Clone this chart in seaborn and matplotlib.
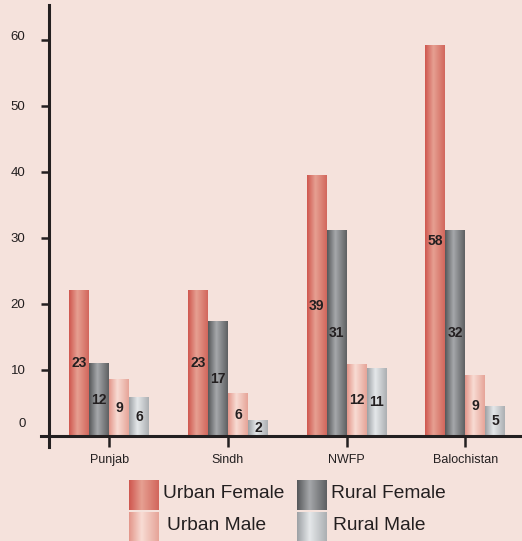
import numpy as np
import pandas as pd
import matplotlib
matplotlib.use("Agg")
import matplotlib.pyplot as plt
import seaborn as sns
from matplotlib.colors import LinearSegmentedColormap
from matplotlib.transforms import ScaledTranslation

# ---- data ----
provinces = ["Punjab", "Sindh", "NWFP", "Balochistan"]
groups = ["Urban Female", "Rural Female", "Urban Male", "Rural Male"]
urban_female = [22.0, 22.1, 39.4, 59.2]
rural_female = [11.0, 17.4, 31.2, 31.1]
urban_male = [8.5, 6.4, 10.8, 9.1]
rural_male = [5.9, 2.4, 10.3, 4.5]
labels_urban_female = ["23", "23", "39", "58"]
labels_rural_female = ["12", "17", "31", "32"]
labels_urban_male = ["9", "6", "12", "9"]
labels_rural_male = ["6", "2", "11", "5"]
yticks = [0, 10, 20, 30, 40, 50, 60]

values = [urban_female, rural_female, urban_male, rural_male]
bar_labels = [labels_urban_female, labels_rural_female, labels_urban_male, labels_rural_male]

# ---- styles ----
BG = "#f5e2dc"
INK = "#231f20"
gradients = {
    "Urban Female": ["#cf564e", "#e6a092", "#d2665c"],
    "Rural Female": ["#555759", "#a6a8ab", "#5e6062"],
    "Urban Male": ["#e3968a", "#f8dcd4", "#e6a498"],
    "Rural Male": ["#9ca0a4", "#e5e8ea", "#abafb2"],
}
cmaps = {g: LinearSegmentedColormap.from_list(g, list(zip([0, 0.42, 1], c)))
         for g, c in gradients.items()}

plt.rcParams["font.family"] = ["Liberation Sans", "DejaVu Sans"]

rows = []
for g, vals in zip(groups, values):
    for p, v in zip(provinces, vals):
        rows.append({"province": p, "group": g, "value": v})
df = pd.DataFrame(rows)

fig = plt.figure(figsize=(5.22, 5.41), dpi=100)
fig.patch.set_facecolor(BG)
W, H = 522, 541
ax = fig.add_axes([49 / W, (H - 447) / H, 473 / W, 442 / H])
ax.set_facecolor(BG)

sns.barplot(data=df, x="province", y="value", hue="group", order=provinces,
            hue_order=groups, width=0.674, palette=[gradients[g][1] for g in groups],
            legend=False, ax=ax, linewidth=0, saturation=1)

grad = np.linspace(0, 1, 128)[None, :]
for cont, g, labs in zip(ax.containers, groups, bar_labels):
    bars = sorted(list(cont), key=lambda b: b.get_x())
    for bar, lab in zip(bars, labs):
        x0, w, h = bar.get_x(), bar.get_width(), bar.get_height()
        ax.imshow(grad, extent=[x0, x0 + w, 0, h], aspect="auto",
                  cmap=cmaps[g], zorder=3, interpolation="bilinear")
        ax.text(x0 + w / 2, h / 2, lab, ha="center", va="center",
                fontsize=10, fontweight="bold", color=INK, zorder=5)

ax.set_xlim(-0.508, 3.478)
ax.set_ylim(-1.67, 65.3)
ax.set_xlabel("")
ax.set_ylabel("")
ax.set_yticks(yticks)
ax.set_yticklabels([str(t) for t in yticks])

for s in ["top", "right"]:
    ax.spines[s].set_visible(False)
ax.spines["bottom"].set_position(("data", 0))
ax.spines["bottom"].set_visible(False)
ax.spines["left"].set_linewidth(2.2)
ax.spines["left"].set_color(INK)
ax.axhline(0, xmin=-0.017, xmax=1, color=INK, lw=2.2, clip_on=False, zorder=6)

ax.tick_params(axis="y", length=6, width=1.8, color=INK, labelsize=9.5,
               labelcolor=INK, pad=11)
ax.tick_params(axis="x", length=8, width=1.8, color=INK, labelsize=9,
               labelcolor=INK, pad=5)
for lab in ax.get_yticklabels():
    t = lab.get_text()
    dy = 0
    if t == "0":
        dy = 10
    elif t == "60":
        dy = 3
    if dy:
        lab.set_transform(lab.get_transform() + ScaledTranslation(0, dy / 72, fig.dpi_scale_trans))

# ---- legend (drawn in pixel coordinates) ----
lax = fig.add_axes([0, 0, 1, 1], zorder=10)
lax.set_xlim(0, W)
lax.set_ylim(H, 0)
lax.axis("off")
legend_pos = {
    "Urban Female": (129, 480, 163, 494),
    "Rural Female": (297, 480, 331, 494),
    "Urban Male": (129, 512, 167, 525),
    "Rural Male": (297, 512, 333, 525),
}
for g in groups:
    px, py, tx, ty = legend_pos[g]
    lax.imshow(grad, extent=[px, px + 30, py + 30, py], aspect="auto",
               cmap=cmaps[g], interpolation="bilinear")
    lax.text(tx, ty, g, fontsize=13.8, color=INK, ha="left", va="center")
lax.set_xlim(0, W)
lax.set_ylim(H, 0)

fig.savefig("out.png", dpi=100, facecolor=BG)
